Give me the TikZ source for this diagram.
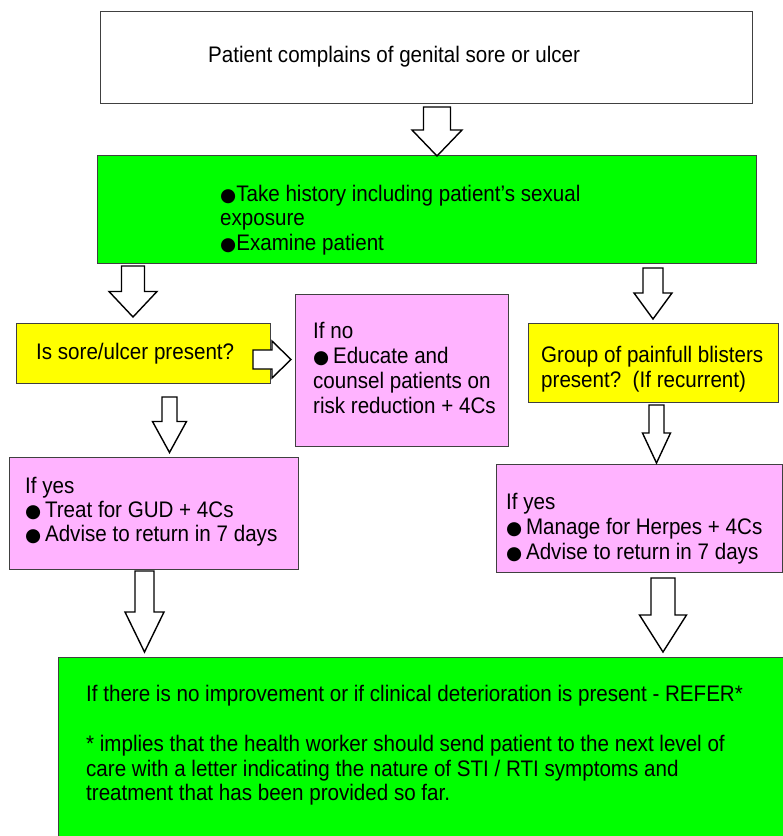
\documentclass[tikz,border=0pt]{standalone}
\usepackage{fontspec}
\setmainfont[FakeStretch=0.915]{Liberation Sans}
\newfontfamily\bulletfont{DejaVu Sans}
\newcommand\blt{{\bulletfont\fontsize{18.5}{18.5}\selectfont ●}}
\newcommand\bltsp{\blt\hspace{3.7pt}}

\definecolor{boxgreen}{HTML}{00FF00}
\definecolor{boxyellow}{HTML}{FFFF00}
\definecolor{boxpink}{HTML}{FFB3FF}

\tikzset{
  box/.style={draw=black!75, line width=0.9pt, inner sep=0pt},
  txt/.style={anchor=north west, inner sep=0pt, align=left,
              font=\fontsize{22.5}{24.8}\selectfont},
  blockarrow/.style={draw=black, line width=1.4pt, fill=white, line join=miter},
}

% downward block arrow: centre x, top y, shaft half width, head half width, head start y, tip y
\newcommand\downblock[6]{%
  \draw[blockarrow] (#1-#3,#2) -- (#1+#3,#2) -- (#1+#3,#5) -- (#1+#4,#5)
    -- (#1,#6) -- (#1-#4,#5) -- (#1-#3,#5) -- cycle;}
% rightward block arrow: centre y, left x, shaft half height, head half height, head start x, tip x
\newcommand\rightblock[6]{%
  \draw[blockarrow] (#2,#1-#3) -- (#5,#1-#3) -- (#5,#1-#4) -- (#6,#1)
    -- (#5,#1+#4) -- (#5,#1+#3) -- (#2,#1+#3) -- cycle;}

\begin{document}
\begin{tikzpicture}[x=1pt, y=-1pt]
\useasboundingbox (0,0) rectangle (783,836);

% boxes
\node[box, fill=white, minimum width=652, minimum height=92] (complaint) at (426,57) {};
\node[box, fill=boxgreen, minimum width=659, minimum height=108] (history) at (426.5,209) {};
\node[box, fill=boxyellow, minimum width=254, minimum height=60] (sore) at (143,353) {};
\node[box, fill=boxpink, minimum width=213, minimum height=152] (ifno) at (401.5,370) {};
\node[box, fill=boxyellow, minimum width=250, minimum height=79] (blisters) at (653,362.5) {};
\node[box, fill=boxpink, minimum width=289, minimum height=112] (gud) at (153.5,513) {};
\node[box, fill=boxpink, minimum width=286, minimum height=107.5] (herpes) at (639,518.5) {};
\node[box, fill=boxgreen, minimum width=740, minimum height=190, anchor=north west] (refer) at (58,657) {};

% texts
\node[txt] (t-complaint) at (208,45.6) {Patient complains of genital sore or ulcer};
\node[txt, font=\fontsize{22.5}{24.5}\selectfont] (t-history) at (220,184.6)
  {\blt Take history including patient’s sexual\\exposure\\\blt Examine patient};
\node[txt] (t-sore) at (36,342.6) {Is sore/ulcer present?};
\node[txt, font=\fontsize{22.5}{25}\selectfont] (t-ifno) at (313,321.6)
  {If no\\\bltsp Educate and\\counsel patients on\\risk reduction + 4Cs};
\node[txt, font=\fontsize{22.5}{25}\selectfont] (t-blisters) at (541,345.6)
  {Group of painfull blisters\\present?\ \ (If recurrent)};
\node[txt, font=\fontsize{22.5}{24}\selectfont] (t-gud) at (25,476.6)
  {If yes\\\bltsp Treat for GUD + 4Cs\\\bltsp Advise to return in 7 days};
\node[txt, font=\fontsize{22.5}{25}\selectfont] (t-herpes) at (506,492.6)
  {If yes\\\bltsp Manage for Herpes + 4Cs\\\bltsp Advise to return in 7 days};
\node[txt, font=\fontsize{22.5}{24.3}\selectfont] (t-refer) at (86,685.3)
  {If there is no improvement or if clinical deterioration is present - REFER*\\[25.7pt]
   * implies that the health worker should send patient to the next level of\\
   care with a letter indicating the nature of STI / RTI symptoms and\\
   treatment that has been provided so far.};

% block arrows
\downblock{437}{107}{13.5}{25}{130}{156}
\downblock{133}{266}{11.5}{24}{291.5}{317}
\rightblock{359.5}{253}{9.5}{18.5}{272}{291}
\downblock{653}{268}{10}{19}{293}{319}
\downblock{169.5}{397}{7.5}{17}{421.5}{452.5}
\downblock{656.5}{405}{7.5}{14}{433}{463}
\downblock{144.5}{571}{9.5}{19.5}{612}{652}
\downblock{663}{578}{12}{23.5}{615}{652}
\end{tikzpicture}
\end{document}
